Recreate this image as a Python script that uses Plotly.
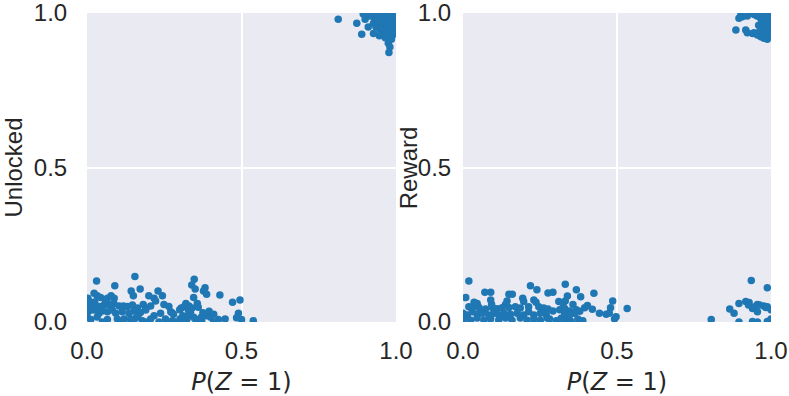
import plotly.graph_objects as go

# left panel: Unlocked vs P(Z=1)
unlocked_x = [
    0.031, 0.155, 0.090, 0.172, 0.143, 0.150, 0.003, 0.008, 0.023, 0.033, 0.044, 0.066, 0.078, 0.088,
    0.200, 0.217, 0.230, 0.244, 0.222,
    0.017, 0.039, 0.055, 0.071, 0.087, 0.104, 0.118, 0.131, 0.147, 0.163, 0.182, 0.190, 0.206, 0.249, 0.265,
    0.006, 0.023, 0.039, 0.049, 0.066, 0.082, 0.093, 0.114, 0.136, 0.152, 0.173, 0.190, 0.217, 0.238, 0.271,
    0.012, 0.033, 0.066, 0.098, 0.120, 0.141, 0.157, 0.179, 0.206, 0.233, 0.254, 0.276,
    0.000, 0.005, 0.050, 0.110, 0.190, 0.165, 0.025, 0.060,
    0.347, 0.339, 0.350, 0.382, 0.377, 0.387, 0.430, 0.345, 0.471, 0.495,
    0.320, 0.305, 0.300, 0.315, 0.330, 0.328, 0.340, 0.335, 0.275, 0.280,
    0.375, 0.385, 0.400, 0.370, 0.490, 0.484,
    0.301, 0.323, 0.350, 0.371, 0.425, 0.447, 0.500, 0.538, 0.360, 0.310, 0.410, 0.285, 0.260,
    0.357, 0.360, 0.310, 0.325, 0.345, 0.395, 0.410,
    0.813, 0.873, 0.889, 0.927, 0.946, 0.975, 0.977, 0.900, 0.894, 0.921, 0.927, 0.948, 0.960, 0.955,
    0.970, 0.978, 0.980,
    0.930, 0.940, 0.950, 0.960, 0.970, 0.975, 0.985, 0.990, 0.995, 0.985, 0.965, 0.945, 0.935, 0.990,
    1.000, 1.000, 0.980, 0.990, 0.960, 0.910, 0.915, 0.970, 0.955, 0.940, 0.995, 0.975, 0.985, 0.990,
    1.000, 0.950, 0.965, 0.985, 0.990,
]
unlocked_y = [
    0.133, 0.147, 0.117, 0.107, 0.100, 0.085, 0.077, 0.066, 0.093, 0.085, 0.079, 0.077, 0.085, 0.077,
    0.085, 0.077, 0.100, 0.085, 0.068,
    0.055, 0.050, 0.055, 0.057, 0.060, 0.052, 0.052, 0.050, 0.055, 0.045, 0.057, 0.044, 0.052, 0.057, 0.050,
    0.036, 0.039, 0.028, 0.036, 0.033, 0.039, 0.028, 0.033, 0.028, 0.036, 0.031, 0.039, 0.020, 0.028, 0.033,
    0.008, 0.016, 0.008, 0.010, 0.010, 0.008, 0.012, 0.004, 0.010, 0.000, 0.010, 0.004,
    0.020, 0.045, 0.000, 0.000, 0.000, 0.020, 0.065, 0.068,
    0.138, 0.120, 0.107, 0.111, 0.100, 0.090, 0.087, 0.079, 0.064, 0.071,
    0.060, 0.045, 0.040, 0.050, 0.052, 0.040, 0.045, 0.030, 0.030, 0.025,
    0.030, 0.020, 0.015, 0.015, 0.028, 0.014,
    0.010, 0.008, 0.010, 0.004, 0.008, 0.010, 0.008, 0.004, 0.000, 0.000, 0.000, 0.000, 0.000,
    0.060, 0.048, 0.020, 0.020, 0.015, 0.035, 0.025,
    0.980, 0.967, 0.931, 0.934, 0.926, 0.902, 0.872, 0.980, 0.997, 1.000, 0.967, 0.994, 0.955, 0.960,
    0.929, 0.935, 0.890,
    0.985, 0.975, 0.965, 0.985, 0.995, 0.970, 0.960, 0.980, 0.995, 0.990, 0.975, 0.950, 0.955, 0.950,
    0.960, 0.985, 0.945, 0.930, 0.940, 0.955, 0.990, 0.955, 0.990, 0.995, 0.970, 0.985, 0.975, 1.000,
    1.000, 0.930, 0.920, 0.915, 0.940,
]

# right panel: Reward vs P(Z=1)
reward_x = [
    0.019, 0.071, 0.090, 0.149, 0.160, 0.219, 0.240, 0.009, 0.036, 0.046, 0.090, 0.093, 0.143, 0.138,
    0.194, 0.197, 0.230, 0.237,
    0.019, 0.030, 0.052, 0.073, 0.095, 0.111, 0.127, 0.149, 0.170, 0.186, 0.213, 0.246, 0.262,
    0.000, 0.014, 0.030, 0.046, 0.063, 0.084, 0.100, 0.116, 0.133, 0.154, 0.176, 0.197, 0.213, 0.230,
    0.251, 0.270,
    0.003, 0.025, 0.046, 0.068, 0.090, 0.116, 0.138, 0.159, 0.186, 0.208, 0.230, 0.251, 0.273,
    0.332, 0.368, 0.382, 0.425, 0.276, 0.292, 0.339, 0.311, 0.332, 0.325, 0.357, 0.486, 0.404, 0.395,
    0.420, 0.443, 0.479, 0.465, 0.475, 0.497, 0.492, 0.533,
    0.276, 0.292, 0.314, 0.330, 0.346, 0.368, 0.379,
    0.281, 0.303, 0.319, 0.335, 0.351, 0.373, 0.389,
    0.330, 0.346, 0.362,
    0.902, 0.907, 0.896, 0.923, 0.886, 0.918, 0.923, 0.940, 0.945, 0.956, 0.967, 0.977, 0.988,
    0.930, 0.945, 0.955, 0.965, 0.975, 0.985, 0.995, 0.970, 0.980, 0.990, 0.995, 0.985, 0.960, 0.975,
    0.990, 1.000, 1.000, 0.995, 0.950, 0.970, 0.980, 0.965,
    0.936, 0.988, 0.918, 0.929, 0.927, 0.896, 0.956, 0.963, 0.977, 0.983, 0.988, 0.940, 0.948, 0.866,
    0.880, 0.956, 0.896, 0.940, 0.956, 0.988, 1.000, 1.000, 0.806,
]
reward_y = [
    0.133, 0.096, 0.096, 0.090, 0.090, 0.117, 0.104, 0.079, 0.064, 0.060, 0.071, 0.057, 0.068, 0.057,
    0.077, 0.066, 0.071, 0.064,
    0.049, 0.045, 0.047, 0.042, 0.047, 0.043, 0.046, 0.047, 0.049, 0.045, 0.049, 0.049, 0.045,
    0.028, 0.023, 0.033, 0.025, 0.028, 0.023, 0.028, 0.023, 0.028, 0.025, 0.028, 0.023, 0.033, 0.023,
    0.028, 0.025,
    0.010, 0.006, 0.013, 0.006, 0.010, 0.006, 0.013, 0.006, 0.013, 0.006, 0.010, 0.006, 0.013,
    0.122, 0.104, 0.082, 0.093, 0.094, 0.096, 0.084, 0.066, 0.068, 0.060, 0.057, 0.068, 0.053, 0.046,
    0.041, 0.028, 0.046, 0.025, 0.028, 0.017, 0.010, 0.044,
    0.042, 0.036, 0.040, 0.044, 0.036, 0.040, 0.035,
    0.010, 0.004, 0.012, 0.006, 0.002, 0.010, 0.004,
    0.025, 0.022, 0.028,
    0.993, 0.988, 0.983, 0.990, 0.945, 0.945, 0.936, 0.934, 0.936, 0.929, 0.923, 0.918, 0.915,
    1.000, 0.995, 0.990, 0.985, 0.980, 0.990, 1.000, 0.970, 0.960, 0.950, 0.935, 0.940, 0.960, 0.995,
    0.975, 0.965, 0.925, 0.985, 1.000, 1.000, 0.930, 0.945,
    0.134, 0.111, 0.066, 0.063, 0.055, 0.060, 0.057, 0.055, 0.052, 0.047, 0.049, 0.044, 0.049, 0.042,
    0.028, 0.033, 0.000, 0.002, 0.000, 0.002, 0.010, 0.040, 0.008,
]

tick_vals = [0.0, 0.5, 1.0]
tick_text = ["0.0", "0.5", "1.0"]
blue = "#1f77b4"
bg = "#EAEAF2"

fig = go.Figure()
fig.add_trace(go.Scatter(x=unlocked_x, y=unlocked_y, mode="markers",
                         marker=dict(size=7.5, color=blue), xaxis="x", yaxis="y"))
fig.add_trace(go.Scatter(x=reward_x, y=reward_y, mode="markers",
                         marker=dict(size=7.5, color=blue), xaxis="x2", yaxis="y2"))

tick_font = dict(family="Liberation Sans, Arial", size=24, color="#262626")
xtitle = dict(text="<i>P</i>(<i>Z</i> = 1)",
              font=dict(family="DejaVu Sans", size=24, color="#262626"), standoff=14)

axis_common = dict(range=[0, 1], tickvals=tick_vals, ticktext=tick_text, tickfont=tick_font,
                   showgrid=True, gridcolor="white", gridwidth=1.6, zeroline=False,
                   showline=False, ticks="outside", tickcolor="rgba(0,0,0,0)",
                   automargin=False, ticklabeloverflow="allow")

fig.update_layout(
    width=789, height=396,
    margin=dict(l=87, r=18, t=13, b=74),
    paper_bgcolor="white", plot_bgcolor=bg,
    showlegend=False,
    xaxis=dict(domain=[0, 0.4518], anchor="y", ticklen=7, title=xtitle, **axis_common),
    yaxis=dict(domain=[0, 1], anchor="x", ticklen=14,
               title=dict(text="Unlocked", font=tick_font, standoff=12), **axis_common),
    xaxis2=dict(domain=[0.5497, 1], anchor="y2", ticklen=7, title=xtitle, **axis_common),
    yaxis2=dict(domain=[0, 1], anchor="x2", ticklen=6, **axis_common),
    annotations=[dict(text="Reward", font=tick_font, textangle=-90, showarrow=False,
                      xref="paper", yref="paper", x=0.4705, y=0.5,
                      xanchor="center", yanchor="middle")],
)

# drop the default 8px page margin so the chart sits at the window's corner
fig.write_html("out.html", config={"displayModeBar": False},
               post_script="document.body.style.margin='0';")
